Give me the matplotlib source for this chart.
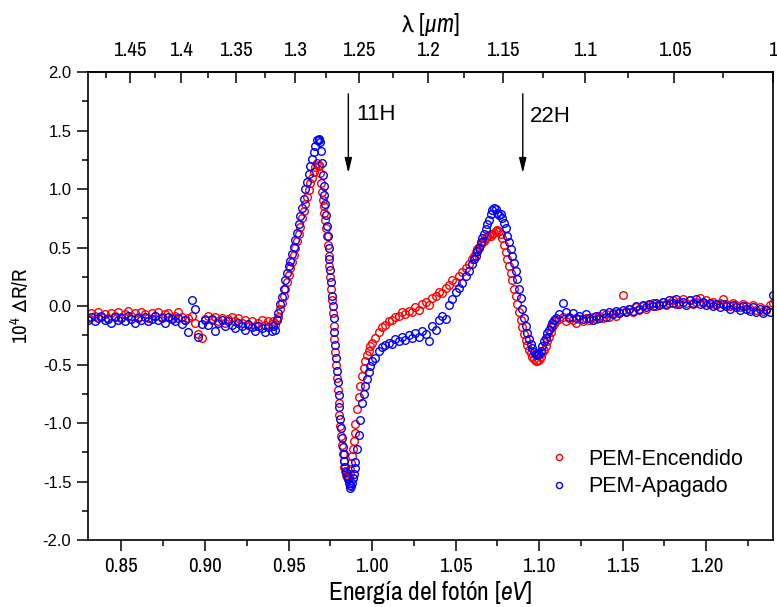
import numpy as np
import matplotlib
matplotlib.use('Agg')
import matplotlib.pyplot as plt
from matplotlib import font_manager
from matplotlib.ticker import FixedLocator, MultipleLocator, FormatStrFormatter

# Energy sampling of each spectral segment (start in eV, step in eV)
seg_start = [0.830, 0.941, 0.9685, 0.991, 1.002, 1.061, 1.112]
seg_step = [0.002, 0.001, 0.0005, 0.001, 0.002, 0.001, 0.002]

# PEM-Encendido (red) -- 10^4 dR/R per segment
red_base = [-0.10, -0.06, -0.08, -0.05, -0.09, -0.07, -0.10, -0.06, -0.08, -0.05,
            -0.09, -0.07, -0.04, -0.08, -0.06, -0.09, -0.05, -0.07, -0.10, -0.06,
            -0.08, -0.05, -0.09, -0.07, -0.06, -0.10, -0.08, -0.05, -0.09, -0.12,
            -0.10, -0.08, -0.14, -0.24, -0.27, -0.11, -0.08, -0.12, -0.09, -0.13,
            -0.10, -0.14, -0.11, -0.09, -0.13, -0.10, -0.14, -0.12, -0.16, -0.13,
            -0.17, -0.14, -0.12, -0.16, -0.13, -0.15]
red_rise = [-0.13, -0.16, -0.11, -0.09, -0.02, 0.03, 0.09, 0.15, 0.21, 0.27,
            0.33, 0.38, 0.44, 0.50, 0.56, 0.62, 0.68, 0.75, 0.81, 0.87,
            0.93, 0.99, 1.05, 1.10, 1.15, 1.19, 1.22, 1.21]
red_fall = [1.20, 1.14, 1.05, 0.98, 0.91, 0.86, 0.80, 0.74, 0.67, 0.60,
            0.52, 0.43, 0.34, 0.25, 0.15, 0.05, -0.06, -0.17, -0.28, -0.39,
            -0.50, -0.61, -0.72, -0.83, -0.93, -1.02, -1.11, -1.19, -1.26, -1.32,
            -1.37, -1.41, -1.44, -1.46, -1.47, -1.46, -1.43, -1.39, -1.34, -1.28,
            -1.22, -1.15, -1.08, -1.01]
red_recover = [-0.88, -0.78, -0.68, -0.60, -0.53, -0.47, -0.42, -0.38, -0.34, -0.31]
red_mid = [-0.27, -0.22, -0.18, -0.16, -0.13, -0.12, -0.09, -0.08, -0.05, -0.07,
           -0.04, -0.05, -0.01, -0.03, 0.02, 0.04, 0.01, 0.07, 0.09, 0.12,
           0.11, 0.16, 0.18, 0.22, 0.21, 0.26, 0.29, 0.33, 0.36, 0.40]
red_22h = [0.43, 0.46, 0.49, 0.51, 0.53, 0.55, 0.56, 0.58, 0.59, 0.61,
           0.60, 0.62, 0.63, 0.64, 0.65, 0.64, 0.62, 0.58, 0.52, 0.46,
           0.40, 0.34, 0.28, 0.22, 0.15, 0.09, 0.02, -0.05, -0.12, -0.18,
           -0.24, -0.29, -0.33, -0.37, -0.40, -0.43, -0.45, -0.47, -0.47, -0.46,
           -0.43, -0.40, -0.37, -0.34, -0.30, -0.26, -0.22, -0.18, -0.15, -0.13]
red_tail = [-0.11, -0.09, -0.13, -0.10, -0.12, -0.14, -0.11, -0.13, -0.10, -0.12,
            -0.09, -0.11, -0.08, -0.10, -0.07, -0.09, -0.06, -0.08, -0.05, 0.10,
            -0.04, -0.02, -0.05, -0.01, -0.03, 0.00, -0.02, 0.01, 0.03, 0.00,
            0.02, 0.04, 0.01, 0.03, 0.05, 0.02, 0.04, 0.06, 0.03, 0.05,
            0.02, 0.04, 0.07, 0.03, 0.05, 0.02, 0.04, 0.01, 0.03, 0.06,
            0.02, 0.00, 0.03, 0.01, -0.01, 0.02, 0.00, -0.02, 0.01, -0.03,
            -0.01, -0.04, -0.02, 0.01, 0.03]

# PEM-Apagado (blue)
blue_base = [-0.12, -0.09, -0.13, -0.10, -0.08, -0.12, -0.11, -0.14, -0.09, -0.12,
             -0.10, -0.13, -0.08, -0.11, -0.14, -0.10, -0.12, -0.09, -0.13, -0.11,
             -0.08, -0.12, -0.10, -0.14, -0.09, -0.11, -0.13, -0.10, -0.15, -0.12,
             -0.22, 0.05, -0.02, -0.26, -0.15, -0.12, -0.16, -0.11, -0.21, -0.14,
             -0.12, -0.17, -0.13, -0.16, -0.19, -0.14, -0.17, -0.20, -0.15, -0.18,
             -0.21, -0.17, -0.19, -0.22, -0.18, -0.21]
blue_rise = [-0.17, -0.20, -0.12, -0.06, 0.02, 0.08, 0.15, 0.22, 0.28, 0.34,
             0.39, 0.45, 0.51, 0.57, 0.63, 0.70, 0.77, 0.84, 0.92, 1.00,
             1.06, 1.13, 1.20, 1.26, 1.32, 1.37, 1.42, 1.43]
blue_fall = [1.42, 1.40, 1.33, 1.22, 1.12, 1.03, 0.95, 0.87, 0.78, 0.69,
             0.60, 0.50, 0.40, 0.31, 0.21, 0.09, 0.00, -0.10, -0.22, -0.33,
             -0.44, -0.55, -0.65, -0.76, -0.86, -0.96, -1.04, -1.13, -1.20, -1.26,
             -1.32, -1.37, -1.42, -1.45, -1.48, -1.51, -1.53, -1.55, -1.54, -1.51,
             -1.47, -1.43, -1.38, -1.33]
blue_recover = [-1.22, -1.10, -0.97, -0.83, -0.75, -0.68, -0.62, -0.56, -0.51, -0.47]
blue_mid = [-0.44, -0.38, -0.35, -0.33, -0.31, -0.32, -0.28, -0.30, -0.26, -0.29,
            -0.25, -0.27, -0.23, -0.26, -0.21, -0.24, -0.30, -0.17, -0.20, -0.12,
            -0.08, -0.11, 0.01, 0.06, 0.12, 0.16, 0.20, 0.26, 0.30, 0.36]
blue_22h = [0.40, 0.43, 0.47, 0.50, 0.55, 0.58, 0.62, 0.66, 0.70, 0.74,
            0.79, 0.82, 0.84, 0.83, 0.80, 0.78, 0.79, 0.75, 0.71, 0.67,
            0.60, 0.55, 0.49, 0.43, 0.37, 0.30, 0.23, 0.15, 0.07, -0.02,
            -0.10, -0.17, -0.23, -0.28, -0.32, -0.36, -0.39, -0.41, -0.42, -0.41,
            -0.38, -0.34, -0.30, -0.27, -0.23, -0.20, -0.17, -0.14, -0.12, -0.10]
blue_tail = [-0.07, 0.03, -0.05, -0.09, -0.06, -0.10, -0.08, -0.11, -0.07, -0.10,
             -0.12, -0.08, -0.10, -0.06, -0.09, -0.05, -0.07, -0.04, -0.06, -0.03,
             -0.05, -0.02, -0.04, 0.00, -0.02, 0.01, -0.01, 0.02, 0.00, 0.03,
             0.01, 0.04, 0.02, 0.05, 0.03, 0.06, 0.02, 0.04, 0.01, 0.05,
             0.03, 0.06, 0.02, 0.04, 0.01, 0.03, 0.00, 0.02, -0.01, 0.02,
             0.00, -0.02, 0.01, -0.01, -0.03, 0.00, -0.02, -0.04, -0.01, -0.05,
             -0.02, -0.06, -0.03, -0.05, 0.10]

red_segs = [red_base, red_rise, red_fall, red_recover, red_mid, red_22h, red_tail]
blue_segs = [blue_base, blue_rise, blue_fall, blue_recover, blue_mid, blue_22h, blue_tail]

wavelength_ticks = [1.0, 1.05, 1.1, 1.15, 1.2, 1.25, 1.3, 1.35, 1.4, 1.45]
wavelength_minor = [1.025, 1.075, 1.125, 1.175, 1.225, 1.275, 1.325, 1.375, 1.425, 1.475]

# Build the energy axis of each segment
energy = np.concatenate([s + d * np.arange(len(v)) for s, d, v in zip(seg_start, seg_step, red_segs)])
red = np.concatenate(red_segs)
blue = np.concatenate(blue_segs)

# Fonts: regular sans plus a narrow face for the axis labels
installed = {f.name for f in font_manager.fontManager.ttflist}
narrow = 'Archivo Narrow' if 'Archivo Narrow' in installed else 'Liberation Sans'
plt.rcParams['font.family'] = ['Liberation Sans', 'DejaVu Sans']
plt.rcParams['mathtext.fontset'] = 'custom'
plt.rcParams['mathtext.rm'] = narrow
plt.rcParams['mathtext.it'] = narrow + ':italic'
plt.rcParams['mathtext.fallback'] = 'stixsans'

fig = plt.figure(figsize=(7.77, 6.07), dpi=100)
ax = fig.add_axes([0.1133, 0.110, 0.8816, 0.771])

ax.plot(energy, red, linestyle='none', marker='o', markersize=5.5, markerfacecolor='none',
        markeredgecolor='red', markeredgewidth=1.0, label='PEM-Encendido')
ax.plot(energy, blue, linestyle='none', marker='o', markersize=5.5, markerfacecolor='none',
        markeredgecolor='blue', markeredgewidth=1.0, label='PEM-Apagado')

ax.set_xlim(0.83, 1.24)
ax.set_ylim(-2.0, 2.0)

ax.xaxis.set_major_locator(MultipleLocator(0.05))
ax.xaxis.set_minor_locator(MultipleLocator(0.025))
ax.xaxis.set_major_formatter(FormatStrFormatter('%.2f'))
ax.yaxis.set_major_locator(MultipleLocator(0.5))
ax.yaxis.set_minor_locator(MultipleLocator(0.25))
ax.yaxis.set_major_formatter(FormatStrFormatter('%.1f'))
ax.tick_params(axis='both', which='major', direction='out', length=8, width=1.1)
ax.tick_params(axis='both', which='minor', direction='out', length=4.5, width=1.1)
ax.tick_params(axis='x', which='major', pad=4, labelsize=15, labelfontfamily=narrow)
ax.tick_params(axis='y', which='major', pad=4, labelsize=12)
for s in ax.spines.values():
    s.set_linewidth(1.2)

ax.set_xlabel('Energía del fotón [$\\mathit{eV}$]', fontsize=18.5, family=narrow, labelpad=2)
ax.set_ylabel('10$^4$ $\\mathrm{\\Delta}$R/R', fontsize=15, family=narrow, labelpad=8)

# Top axis in wavelength
top = ax.secondary_xaxis('top', functions=(lambda e: 1.24 / e, lambda l: 1.24 / l))
top.xaxis.set_major_locator(FixedLocator(wavelength_ticks))
top.xaxis.set_minor_locator(FixedLocator(wavelength_minor))
top.xaxis.set_major_formatter(FormatStrFormatter('%g'))
top.tick_params(which='major', direction='in', length=8, width=1.1, pad=9, labelsize=15,
                labelfontfamily=narrow)
top.tick_params(which='minor', direction='in', length=4.5, width=1.1)
top.spines['top'].set_linewidth(1.2)
top.set_xlabel('$\\mathrm{\\lambda}$ [$\\mathit{\\mu m}$]', fontsize=18, family=narrow, labelpad=6)

# Transition markers
arrow = dict(arrowstyle='-|>,head_length=0.9,head_width=0.22', color='black', lw=1.0)
ax.annotate('', xy=(0.9858, 1.115), xytext=(0.9858, 1.84), arrowprops=arrow)
ax.annotate('', xy=(1.0902, 1.115), xytext=(1.0902, 1.84), arrowprops=arrow)
ax.text(0.9907, 1.64, '11H', fontsize=16, va='center', ha='left')
ax.text(1.0945, 1.62, '22H', fontsize=16, va='center', ha='left')

ax.legend(loc='lower right', bbox_to_anchor=(0.985, 0.05), frameon=False, fontsize=15.5,
          markerscale=0.8, handlelength=1.0, handletextpad=0.85, labelspacing=0.32)

fig.savefig('out.png', dpi=100)
